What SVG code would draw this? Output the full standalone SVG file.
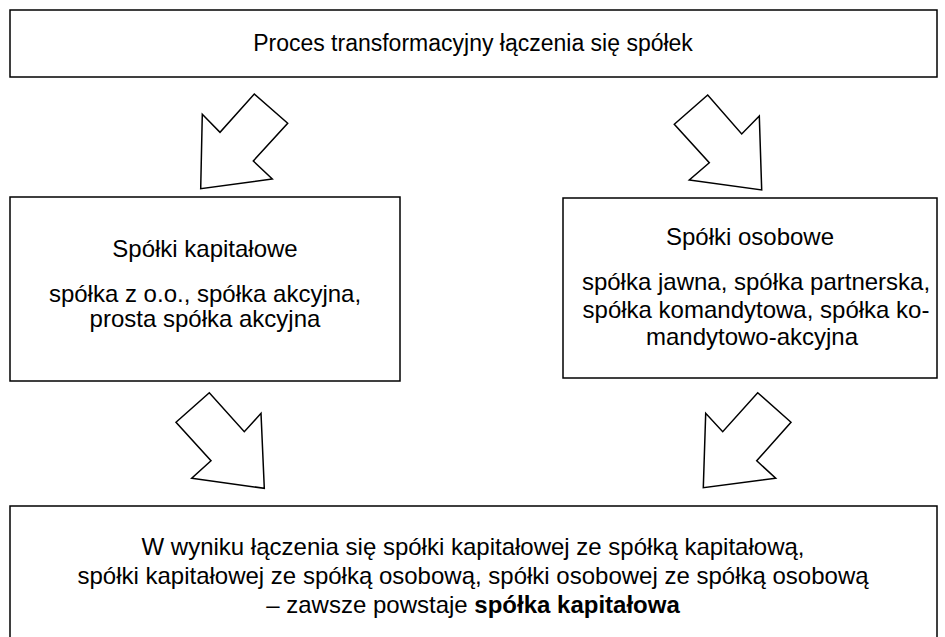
<svg xmlns="http://www.w3.org/2000/svg" width="945" height="637" viewBox="0 0 945 637">
<style>
.box{fill:#fff;stroke:#000;stroke-width:1.5}
.arr{fill:#fff;stroke:#000;stroke-width:1.5;stroke-linejoin:miter}
text{font-family:"Liberation Sans",Arial,sans-serif;font-size:24px;fill:#000;text-anchor:middle}
.t{font-size:23px}
.b{font-weight:bold}
</style>
<rect width="945" height="637" fill="#fff"/>
<g id="top">
<rect class="box" x="10" y="10" width="927" height="67"/>
<text class="t" x="473" y="51">Proces transformacyjny łączenia się spółek</text>
</g>
<g id="kapitalowe">
<rect class="box" x="10" y="197" width="390" height="184"/>
<text x="205" y="257">Spółki kapitałowe</text>
<text x="205" y="302">spółka z o.o., spółka akcyjna,</text>
<text x="205" y="327">prosta spółka akcyjna</text>
</g>
<g id="osobowe">
<rect class="box" x="563" y="198" width="374" height="180"/>
<text x="750" y="245">Spółki osobowe</text>
<text x="756" y="290">spółka jawna, spółka partnerska,</text>
<text x="756" y="318">spółka komandytowa, spółka ko-</text>
<text x="752" y="345">mandytowo-akcyjna</text>
</g>
<g id="wynik">
<rect class="box" x="10" y="506" width="927" height="150"/>
<text x="473" y="555">W wyniku łączenia się spółki kapitałowej ze spółką kapitałową,</text>
<text x="473" y="584">spółki kapitałowej ze spółką osobową, spółki osobowej ze spółką osobową</text>
<text x="473" y="613">– zawsze powstaje <tspan class="b">spółka kapitałowa</tspan></text>
</g>
<g id="connectors">
<polygon class="arr" points="200.7,188.7 202.3,114.3 220,132.3 254.3,94 287.7,123.3 253.3,161 272.3,179"/>
<polygon class="arr" points="761.7,190 759.3,116 741.7,134 707.7,95 674.3,124.3 709.3,162.7 689.3,180"/>
<polygon class="arr" points="264.3,488.3 261,413.3 244.3,431.7 209.3,392.7 176,422.3 211,460.7 191.7,478.3"/>
<polygon class="arr" points="703.3,487.7 705.7,413.3 722.7,431.7 757.7,392.7 791,422.3 756.7,460.7 775.7,478.3"/>
</g>
</svg>
